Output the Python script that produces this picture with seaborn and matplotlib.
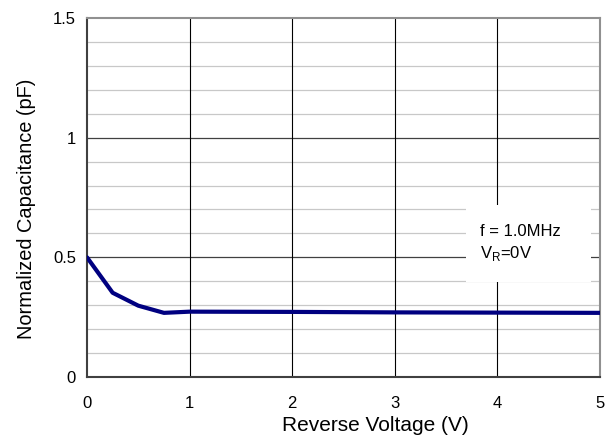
import matplotlib
matplotlib.use("Agg")
import matplotlib.pyplot as plt
import seaborn as sns
import pandas as pd
from matplotlib.patches import Rectangle

voltage = [0.0, 0.25, 0.5, 0.75, 1.0, 2.0, 3.0, 4.0, 5.0]
capacitance = [0.50, 0.352, 0.298, 0.268, 0.273, 0.272, 0.270, 0.269, 0.268]
x_ticks = [0, 1, 2, 3, 4, 5]
y_ticks = [0, 0.5, 1, 1.5]
y_tick_labels = ["0", "0.5", "1", "1.5"]

sns.set_style("white")
plt.rcParams['font.family'] = ['Liberation Sans', 'DejaVu Sans']

df = pd.DataFrame({"V": voltage, "C": capacitance})

fig = plt.figure(figsize=(6.14, 4.43), dpi=100)
ax = fig.add_axes([87/614, 1-377/443, (600-87)/614, (377-18)/443])

# minor gridlines
for yv in [0.1, 0.2, 0.3, 0.4, 0.6, 0.7, 0.8, 0.9, 1.1, 1.2, 1.3, 1.4]:
    ax.axhline(yv, color="#c8c8c8", lw=0.9, zorder=1)
for yv in [0.5, 1.0]:
    ax.axhline(yv, color="#404040", lw=0.9, zorder=1)
for xv in [1, 2, 3, 4]:
    ax.axvline(xv, color="black", lw=0.8, zorder=1)

# annotation box (covers gridlines)
ax.add_patch(Rectangle((3.69, 0.397), 4.91 - 3.69, 0.719 - 0.397,
                       facecolor="white", edgecolor="none", zorder=2))

sns.lineplot(data=df, x="V", y="C", ax=ax, color="#000080", lw=3, zorder=3)

ax.text(3.83, 0.607, "f = 1.0MHz", fontsize=12, va="center", ha="left", zorder=4, color="black")
ax.text(3.83, 0.515, "V$_\\mathregular{R}$=0V", fontsize=12, va="center", ha="left", zorder=4, color="black")

ax.set_xlim(0, 5)
ax.set_ylim(0, 1.5)
ax.set_xticks(x_ticks)
ax.set_yticks(y_ticks)
ax.set_yticklabels(y_tick_labels)
ax.tick_params(axis="both", labelsize=12, length=0, labelcolor="black")
ax.tick_params(axis="x", pad=14)
ax.tick_params(axis="y", pad=8)
ax.set_xlabel("Reverse Voltage (V)", fontsize=15, color="black")
ax.set_ylabel("Normalized Capacitance (pF)", fontsize=14.4, color="black")
ax.xaxis.set_label_coords(0.563, -0.109)
ax.yaxis.set_label_coords(-0.099, 0.468)

for s in ["left", "bottom"]:
    ax.spines[s].set_color("#404040")
    ax.spines[s].set_linewidth(1.5)
for s in ["top", "right"]:
    ax.spines[s].set_color("#909090")
    ax.spines[s].set_linewidth(1.5)

fig.savefig("out.png", dpi=100)
